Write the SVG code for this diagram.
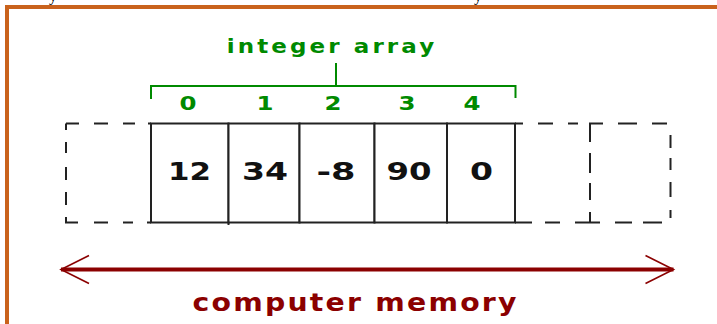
<svg xmlns="http://www.w3.org/2000/svg" width="717" height="324" viewBox="0 0 717 324">
  <defs>
    <style>
      .frame { fill: none; stroke: #c9621c; stroke-width: 4; }
      .frag { font-family: "Liberation Serif", serif; font-size: 16px; fill: #000; }
      .green { font-family: "DejaVu Sans", Verdana, sans-serif; font-weight: bold; fill: #008a00; }
      .title { font-size: 20px; letter-spacing: 2.7px; text-anchor: middle; }
      .num { font-family: "DejaVu Sans", Verdana, sans-serif; font-weight: bold; font-size: 25px; fill: #111; text-anchor: middle; }
      .idx { font-size: 19px; text-anchor: middle; }
      .bracket { fill: none; stroke: #008a00; stroke-width: 2; }
      .cell { fill: #fff; stroke: #222; stroke-width: 2; }
      .solid { fill: none; stroke: #222; stroke-width: 2; }
      .dash { fill: none; stroke: #222; stroke-width: 2; stroke-linecap: butt; }
      .mem { fill: none; stroke: #8b0000; stroke-width: 4; }
      .memhead { fill: none; stroke: #8b0000; stroke-width: 1.6; }
      .memtext { font-family: "DejaVu Sans", Verdana, sans-serif; font-weight: bold; font-size: 24px; letter-spacing: 1.9px; fill: #8b0000; text-anchor: middle; }
    </style>
    <marker id="openHead" markerUnits="userSpaceOnUse" viewBox="0 0 32 32" refX="30" refY="16" markerWidth="32" markerHeight="32" orient="auto-start-reverse">
      <path class="memhead" d="M2,2 L30,16 L2,30"/>
    </marker>
  </defs>

  <rect x="0" y="0" width="717" height="324" fill="#fff"/>

  <g id="frame">
    <rect class="frame" x="7" y="7" width="740" height="360"/>
    <text class="frag" x="49" y="1">y</text>
    <text class="frag" x="474" y="1">y</text>
  </g>

  <g id="array-label">
    <text class="green title" transform="translate(332,52.5) scale(1.15,1)" x="0" y="0">integer array</text>
    <path class="bracket" d="M151,99 V86 H515.5 V98 M336,63 V86"/>
  </g>

  <g id="indices">
    <text class="green idx" x="188" y="110" textLength="17" lengthAdjust="spacingAndGlyphs">0</text>
    <text class="green idx" x="265" y="110" textLength="17" lengthAdjust="spacingAndGlyphs">1</text>
    <text class="green idx" x="333" y="110" textLength="17" lengthAdjust="spacingAndGlyphs">2</text>
    <text class="green idx" x="407" y="110" textLength="17" lengthAdjust="spacingAndGlyphs">3</text>
    <text class="green idx" x="472" y="110" textLength="17" lengthAdjust="spacingAndGlyphs">4</text>
  </g>

  <g id="memory-before">
    <path class="dash" d="M66,123.5 H79 M94,123.5 H108 M123,123.5 H135 M148,123.5 H151
      M66,123.5 V130 M66,142 V153 M66,167 V180 M66,192 V205 M66,217 V223.5
      M65,222.5 H78 M94,222.5 H108 M123,222.5 H133 M147,222.5 H151"/>
  </g>

  <g id="cell-0">
    <rect class="cell" x="151" y="123.5" width="77.5" height="99"/>
    <text class="num" x="189.5" y="180" textLength="43" lengthAdjust="spacingAndGlyphs">12</text>
  </g>
  <g id="cell-1">
    <rect class="cell" x="228.5" y="123.5" width="71" height="99"/>
    <text class="num" x="265" y="180" textLength="46" lengthAdjust="spacingAndGlyphs">34</text>
  </g>
  <g id="cell-2">
    <rect class="cell" x="299.5" y="123.5" width="75" height="99"/>
    <text class="num" x="336" y="180" textLength="39" lengthAdjust="spacingAndGlyphs">-8</text>
  </g>
  <g id="cell-3">
    <rect class="cell" x="374.5" y="123.5" width="72.5" height="99"/>
    <text class="num" x="409" y="180" textLength="45" lengthAdjust="spacingAndGlyphs">90</text>
  </g>
  <g id="cell-4">
    <rect class="cell" x="447" y="123.5" width="68" height="99"/>
    <text class="num" x="481.5" y="180" textLength="23" lengthAdjust="spacingAndGlyphs">0</text>
  </g>

  <g id="memory-after">
    <path class="solid" d="M228.5,222.5 V225"/>
    <path class="dash" d="M515,123.5 H523 M538,123.5 H553 M568,123.5 H578 M589,123.5 H603 M618,123.5 H637 M652,123.5 H667
      M590,123.5 V142 M590,153 V173 M590,183 V200 M590,212 V222.5
      M670.5,135 V148 M670.5,158 V170 M670.5,182 V197 M670.5,210 V218
      M515,222.5 H532 M545,222.5 H560 M575,222.5 H600 M615,222.5 H632 M643,222.5 H662"/>
  </g>

  <g id="connectors">
    <path class="mem" d="M61,269.5 H673.5" marker-start="url(#openHead)" marker-end="url(#openHead)"/>
  </g>

  <g id="memory-label">
    <text class="memtext" transform="translate(355.6,311) scale(1.18,1)" x="0" y="0">computer memory</text>
  </g>
</svg>
